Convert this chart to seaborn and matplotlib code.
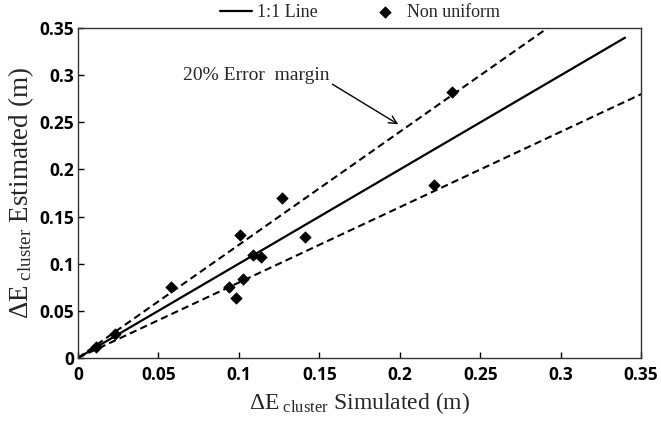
import numpy as np
import pandas as pd
import matplotlib
matplotlib.use("Agg")
import matplotlib.pyplot as plt
import seaborn as sns

# Data
sim = [0.011, 0.023, 0.058, 0.094, 0.098, 0.1007, 0.1025, 0.109, 0.114, 0.127, 0.141, 0.221, 0.2325]
est = [0.011, 0.025, 0.075, 0.075, 0.064, 0.130, 0.084, 0.109, 0.107, 0.170, 0.128, 0.183, 0.282]
line_x = [0.0, 0.34]
upper_x = [0.0, 0.35 / 1.2]
lower_x = [0.0, 0.35]
xticks = [0, 0.05, 0.1, 0.15, 0.2, 0.25, 0.3, 0.35]
yticks = [0, 0.05, 0.1, 0.15, 0.2, 0.25, 0.3, 0.35]
xtick_labels = ["0", "0.05", "0.1", "0.15", "0.2", "0.25", "0.3", "0.35"]
ytick_labels = ["0", "0.05", "0.1", "0.15", "0.2", "0.25", "0.3", "0.35"]

sns.set_style("ticks")
plt.rcParams["font.family"] = ["Liberation Serif", "DejaVu Serif"]
plt.rcParams["mathtext.fontset"] = "custom"
plt.rcParams["mathtext.rm"] = "Liberation Serif"
plt.rcParams["mathtext.it"] = "Liberation Serif:italic"

fig = plt.figure(figsize=(6.61, 4.21), dpi=100)
ax = fig.add_axes([0.118, 0.150, 0.852, 0.783])

df_pts = pd.DataFrame({"sim": sim, "est": est})
df_one = pd.DataFrame({"x": line_x, "y": line_x})
df_up = pd.DataFrame({"x": upper_x, "y": [v * 1.2 for v in upper_x]})
df_lo = pd.DataFrame({"x": lower_x, "y": [v * 0.8 for v in lower_x]})

sns.lineplot(data=df_one, x="x", y="y", ax=ax, color="black", lw=1.6, label="1:1 Line")
sns.lineplot(data=df_up, x="x", y="y", ax=ax, color="black", lw=1.5, linestyle=(0, (3.5, 2)), label="_nolegend_")
sns.lineplot(data=df_lo, x="x", y="y", ax=ax, color="black", lw=1.5, linestyle=(0, (3.5, 2)), label="_nolegend_")
sns.scatterplot(data=df_pts, x="sim", y="est", ax=ax, marker="D", color="black", s=34, edgecolor="black", label="Non uniform", zorder=5)

ax.set_xlim(0, 0.35)
ax.set_ylim(0, 0.35)
ax.set_xticks(xticks)
ax.set_yticks(yticks)
ax.set_xticklabels(xtick_labels)
ax.set_yticklabels(ytick_labels)
for lab in ax.get_xticklabels() + ax.get_yticklabels():
    lab.set_fontfamily(["Open Sans", "DejaVu Sans"])
    lab.set_fontweight("bold")
    lab.set_fontsize(12.5)
ax.tick_params(axis="x", direction="in", length=4, width=1, colors="black", pad=6)
ax.tick_params(axis="y", direction="in", length=4, width=1, colors="black", pad=3)
for sp in ax.spines.values():
    sp.set_visible(True)
    sp.set_color("#333333")
    sp.set_linewidth(1.0)

ax.set_xlabel(r"$\Delta$E$_{\ \mathrm{cluster}}$ Simulated (m)", fontsize=17, labelpad=4)
ax.set_ylabel(r"$\Delta$E$_{\ \mathrm{cluster}}$ Estimated (m)", fontsize=19.5, labelpad=2)

ax.annotate("20% Error  margin", xy=(0.199, 0.248), xytext=(0.065, 0.3),
            fontsize=14, ha="left", va="center",
            arrowprops=dict(arrowstyle="->", color="black", lw=1.0,
                            shrinkA=0, shrinkB=0, relpos=(0.97, 0.25)))

leg = ax.legend(loc="lower center", bbox_to_anchor=(0.5, 0.995), ncol=2, frameon=False,
                fontsize=13, handlelength=1.8, columnspacing=2.8, borderaxespad=0.1,
                handletextpad=0.3)

fig.savefig("out.png", dpi=100)
